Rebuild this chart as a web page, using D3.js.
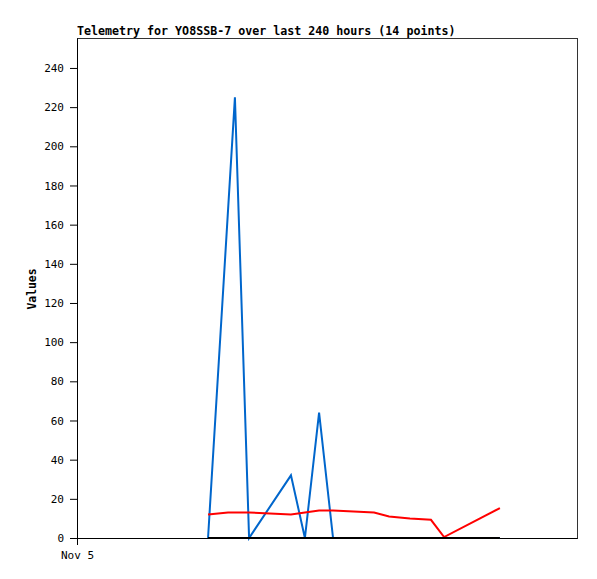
<!DOCTYPE html>
<html><head><meta charset="utf-8">
<script src="https://cdn.jsdelivr.net/npm/d3@7"></script>
<style>body{margin:0;background:#fff}svg{display:block}</style>
</head><body>
<script>
const title = "Telemetry for YO8SSB-7 over last 240 hours (14 points)";
const yLabel = "Values";
const xTickLabels = ["Nov 5"];
const hours = [62.9, 72.5, 75.8, 82.6, 102.7, 109.4, 116.2, 122.9, 142.6, 149.8, 159.8, 169.9, 176.2, 203.0];
const blueVals = [0, null, 225, 0, 32, 0, 64, 0, 0, 0, 0, 0, 0, 0];
const redVals = [12, 13, 13, 13, 12, 13, 14, 14, 13, 11, 10, 9.3, 0.5, 15.3];
const blackVals = [0, 0, 0, 0, 0, 0, 0, 0, 0, 0, 0, 0, 0, 0];
const yTicks = [0, 20, 40, 60, 80, 100, 120, 140, 160, 180, 200, 220, 240];

const W = 597, H = 579;
const L = 77, R = 577, T = 38, B = 538;
const svg = d3.select("body").append("svg").attr("width", W).attr("height", H);
const x = d3.scaleLinear().domain([0, 240]).range([L, R]);
const y = d3.scaleLinear().domain([0, 255.3]).range([B, T]);
const font = "'DejaVu Sans Mono', monospace";

svg.append("rect").attr("x", L).attr("y", T).attr("width", R - L).attr("height", B - T)
  .attr("fill", "none").attr("stroke", "#333").attr("stroke-width", 1).attr("shape-rendering", "crispEdges");

const yAxis = svg.append("g").attr("transform", `translate(${L},0)`)
  .call(d3.axisLeft(y).tickValues(yTicks).tickSize(7).tickPadding(6).tickSizeOuter(0));
yAxis.select(".domain").attr("stroke", "#000");
yAxis.selectAll("line").attr("stroke", "#000");
yAxis.selectAll("text").attr("font-family", font).attr("font-size", 11).attr("fill", "#000");

const xAxis = svg.append("g").attr("transform", `translate(0,${B})`)
  .call(d3.axisBottom(x).tickValues([0]).tickFormat((d, i) => xTickLabels[i]).tickSize(7).tickPadding(6).tickSizeOuter(0));
xAxis.select(".domain").attr("stroke", "#000");
xAxis.selectAll("line").attr("stroke", "#000");
xAxis.selectAll("text").attr("font-family", font).attr("font-size", 11).attr("fill", "#000");

const pts = vals => hours.map((h, i) => [h, vals[i]]).filter(d => d[1] !== null);
const line = d3.line().x(d => x(d[0])).y(d => y(d[1]));

svg.append("path").attr("d", line(pts(blueVals))).attr("fill", "none").attr("stroke", "#0066cc").attr("stroke-width", 2);
svg.append("path").attr("d", line(pts(redVals))).attr("fill", "none").attr("stroke", "#ff0000").attr("stroke-width", 2);
svg.append("path").attr("d", line(pts(blackVals))).attr("fill", "none").attr("stroke", "#000").attr("stroke-width", 2);

svg.append("text").attr("x", L).attr("y", 35).attr("font-family", font).attr("font-size", 11.65)
  .attr("font-weight", "bold").attr("fill", "#000").text(title);
svg.append("text").attr("transform", `translate(36,289) rotate(-90)`)
  .attr("text-anchor", "middle").attr("font-family", font).attr("font-size", 11.4)
  .attr("font-weight", "bold").attr("fill", "#000").text(yLabel);
</script>
</body></html>
